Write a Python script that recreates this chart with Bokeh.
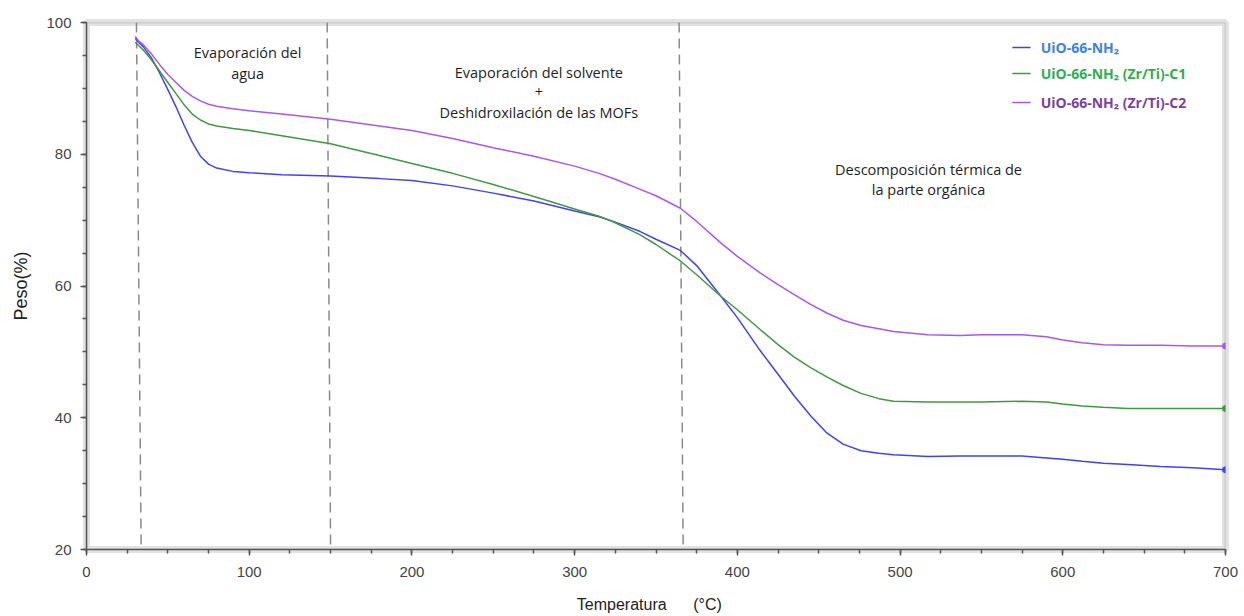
from bokeh.plotting import figure
from bokeh.models import FixedTicker, Range1d, BoxAnnotation
from bokeh.core.properties import value
from bokeh.embed import file_html
from bokeh.resources import INLINE

# ---- data ----
temperature = [30, 32, 35, 40, 45, 50, 55, 60, 65, 70, 75, 80, 90, 100, 120, 150, 180, 200,
               225, 250, 275, 300, 315, 325, 340, 350, 365, 375, 390, 400, 414, 425, 435,
               445, 455, 465, 476, 487, 496, 517, 537, 550, 575, 590, 600, 612, 625, 640,
               660, 680, 700]
peso_uio = [97.6, 97.0, 96.3, 94.6, 92.3, 89.8, 87.2, 84.4, 81.8, 79.7, 78.5, 77.9, 77.4, 77.2,
            76.9, 76.7, 76.3, 76.0, 75.2, 74.1, 72.9, 71.4, 70.5, 69.7, 68.3, 67.1, 65.4, 63.1,
            58.4, 55.2, 50.2, 46.6, 43.3, 40.3, 37.7, 36.0, 35.0, 34.6, 34.4, 34.1, 34.2, 34.2,
            34.2, 33.9, 33.7, 33.4, 33.1, 32.9, 32.6, 32.4, 32.1]
peso_c1 = [97.0, 96.5, 95.8, 94.3, 92.6, 90.9, 89.2, 87.5, 86.1, 85.2, 84.6, 84.3, 83.9, 83.6,
           82.8, 81.6, 79.8, 78.6, 77.1, 75.4, 73.6, 71.7, 70.6, 69.6, 67.8, 66.3, 63.8, 61.7,
           58.4, 56.4, 53.4, 51.1, 49.2, 47.6, 46.2, 44.9, 43.7, 42.9, 42.5, 42.4, 42.4, 42.4,
           42.5, 42.4, 42.1, 41.8, 41.6, 41.4, 41.4, 41.4, 41.4]
peso_c2 = [97.9, 97.2, 96.6, 95.2, 93.6, 92.1, 90.9, 89.7, 88.8, 88.1, 87.6, 87.3, 86.9, 86.6,
           86.1, 85.3, 84.3, 83.6, 82.4, 81.0, 79.7, 78.2, 77.1, 76.2, 74.7, 73.7, 71.8, 69.8,
           66.5, 64.5, 62.0, 60.2, 58.7, 57.2, 55.9, 54.8, 54.0, 53.5, 53.1, 52.6, 52.5, 52.6,
           52.6, 52.3, 51.8, 51.4, 51.1, 51.0, 51.0, 50.9, 50.9]

series_names = ["UiO-66-NH\u2082", "UiO-66-NH\u2082 (Zr/Ti)-C1", "UiO-66-NH\u2082 (Zr/Ti)-C2"]
series_values = [peso_uio, peso_c1, peso_c2]
line_colors = ["#4040ff", "#3f9a3f", "#aa55f5"]
label_colors = ["#3f7ff0", "#2fb04e", "#7c3fa8"]

x_ticks = [0, 100, 200, 300, 400, 500, 600, 700]
x_minor = list(range(0, 701, 25))
y_ticks = [20, 40, 60, 80, 100]
y_minor = list(range(20, 101, 5))

# stage boundaries (dashed lines, top and bottom temperature)
stage_top = [30.7, 147.9, 364.2]
stage_bottom = [33.6, 150.0, 366.7]

anno_text = ["Evaporación del", "agua",
             "Evaporación del solvente", "+", "Deshidroxilación de las MOFs",
             "Descomposición térmica de", "la parte orgánica"]
anno_x = [99, 99, 278, 278, 278, 517.5, 517.5]
anno_y = [95.4, 92.2, 92.4, 89.4, 86.4, 77.7, 74.7]

legend_x0, legend_x1, legend_tx = 569.0, 580.2, 586.4
legend_y = [96.2, 92.26, 87.86]

# ---- figure ----
p = figure(width=1244, height=616, output_backend="svg", toolbar_location=None,
           x_range=Range1d(0, 700), y_range=Range1d(20, 100),
           min_border_left=86, min_border_right=19, min_border_top=22, min_border_bottom=67)
p.xgrid.visible = False
p.ygrid.visible = False
p.outline_line_color = "#e2e2e2"
p.outline_line_width = 7
p.background_fill_color = "white"
p.border_fill_color = "white"

for ax in (p.xaxis[0], p.yaxis[0]):
    ax.axis_line_color = "#555555"
    ax.axis_line_width = 1.5
    ax.major_tick_line_color = "#555555"
    ax.minor_tick_line_color = "#555555"
    ax.major_tick_line_width = 1.5
    ax.minor_tick_line_width = 1.5
    ax.major_tick_in = 0
    ax.major_tick_out = 6
    ax.minor_tick_in = 0
    ax.minor_tick_out = 4
    ax.major_label_text_font = "Liberation Sans"
    ax.major_label_text_font_size = "15px"
    ax.major_label_text_color = "#444444"
    ax.axis_label_text_font = "Liberation Sans"
    ax.axis_label_text_font_style = "normal"
    ax.axis_label_text_color = "#222222"

p.xaxis.ticker = FixedTicker(ticks=x_ticks, minor_ticks=x_minor)
p.yaxis.ticker = FixedTicker(ticks=y_ticks, minor_ticks=y_minor)
p.xaxis.axis_label = "Temperatura\u00a0\u00a0\u00a0\u00a0\u00a0\u00a0(°C)\u00a0\u00a0\u00a0"
p.yaxis.axis_label = "Peso(%)"
p.xaxis.axis_label_text_font_size = "16px"
p.yaxis.axis_label_text_font_size = "18px"
p.xaxis.axis_label_standoff = 16
p.yaxis.axis_label_standoff = 12
p.xaxis.major_label_standoff = 11
p.yaxis.major_label_standoff = 9

frame_box = BoxAnnotation(fill_alpha=0, line_color="#555555", line_width=1.5, level="overlay")
p.add_layout(frame_box)

# dashed stage lines
p.segment(x0=stage_top, y0=[100] * 3, x1=stage_bottom, y1=[20] * 3,
          line_color="#8a8a8a", line_width=1.5, line_dash="10 6")

# series
for vals, col in zip(series_values, line_colors):
    p.line(temperature, vals, line_color=col, line_width=1.5)
    p.scatter([temperature[-1]], [vals[-1]], size=6, fill_color=col, line_color=col)

# annotations
p.text(x=anno_x, y=anno_y, text=anno_text, text_font=value("Open Sans"),
       text_font_size="14.5px", text_color="#1e1e1e", text_align="center",
       text_baseline="middle")

# custom legend
p.segment(x0=[legend_x0] * 3, y0=legend_y, x1=[legend_x1] * 3, y1=legend_y,
          line_color=line_colors, line_width=1.5)
p.text(x=[legend_tx] * 3, y=legend_y, text=series_names, text_color=label_colors,
       text_font=value("Open Sans"), text_font_size="14px", text_font_style="bold",
       text_baseline="middle", text_align="left")

open("out.html", "w").write(file_html(p, INLINE))
